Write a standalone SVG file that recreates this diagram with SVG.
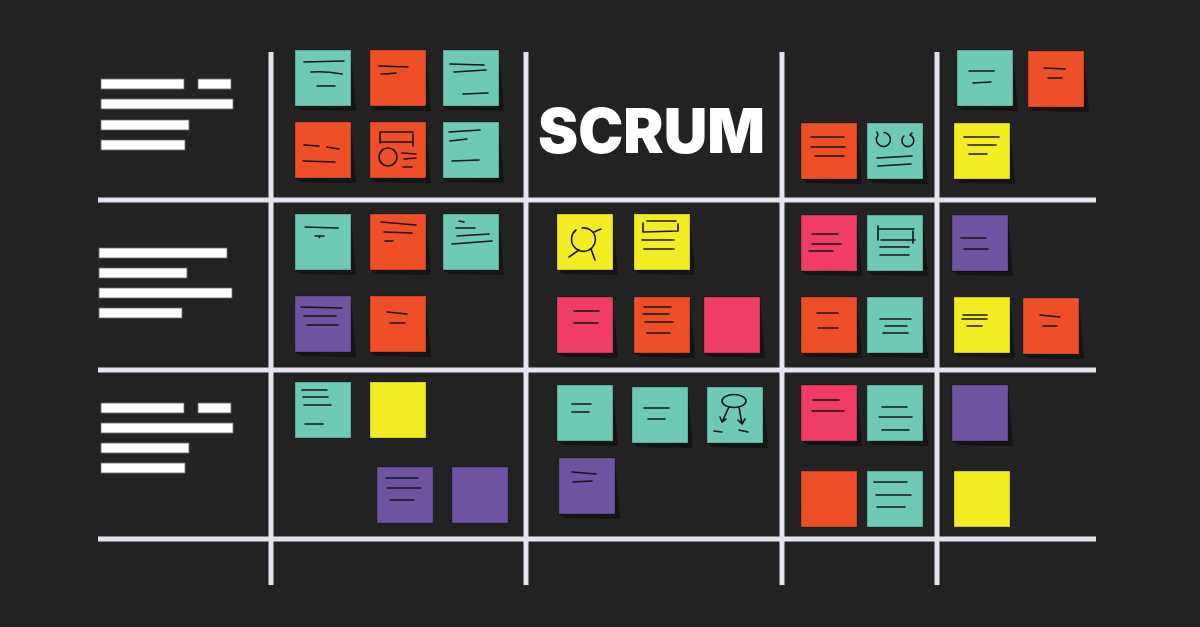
<svg xmlns="http://www.w3.org/2000/svg" xmlns:xlink="http://www.w3.org/1999/xlink" width="1200" height="627" viewBox="0 0 1200 627">
  <defs>
    <style>
      .grid { stroke: #e6e4ef; stroke-width: 5; }
      .bar { fill: #ffffff; stroke: #6b6b6b; stroke-width: 0.8; }
      .note { stroke: rgba(0,0,0,0.28); stroke-width: 1; }
      .teal { fill: #6fcab5; }
      .orange { fill: #ef4f27; }
      .yellow { fill: #f5ed23; }
      .pink { fill: #ef3d67; }
      .purple { fill: #6e53a1; }
      .shadow { fill: #141414; }
      .ink { fill: none; stroke: #141414; stroke-width: 1.6; stroke-linecap: round; stroke-linejoin: round; }
      .title { font-family: Inter, "Liberation Sans", sans-serif; font-weight: 900; font-size: 62px; fill: #ffffff; }
    </style>
    <!-- drop shadow cast by a sticky note, bottom-right -->
    <path id="shadow" class="shadow" d="M56,4 L61,61 L6,60 L0,56 Z"/>
  </defs>

  <rect width="1200" height="627" fill="#222222"/>

  <!-- board grid -->
  <g id="connectors">
    <line class="grid" x1="271" y1="52" x2="271" y2="585"/>
    <line class="grid" x1="526" y1="52" x2="526" y2="585"/>
    <line class="grid" x1="782" y1="52" x2="782" y2="585"/>
    <line class="grid" x1="937" y1="52" x2="937" y2="585"/>
    <line class="grid" x1="98" y1="200" x2="1096" y2="200"/>
    <line class="grid" x1="98" y1="370" x2="1096" y2="370"/>
    <line class="grid" x1="98" y1="539" x2="1096" y2="539"/>
  </g>

  <!-- row labels -->
  <g id="label-row1">
    <rect class="bar" x="101" y="79" width="83" height="10"/>
    <rect class="bar" x="198" y="79" width="33" height="10"/>
    <rect class="bar" x="101" y="99" width="132" height="10"/>
    <rect class="bar" x="101" y="120" width="88" height="10"/>
    <rect class="bar" x="101" y="140" width="84" height="10"/>
  </g>
  <g id="label-row2">
    <rect class="bar" x="99" y="248" width="128" height="10"/>
    <rect class="bar" x="99" y="268" width="88" height="10"/>
    <rect class="bar" x="99" y="288" width="133" height="10"/>
    <rect class="bar" x="99" y="308" width="83" height="10"/>
  </g>
  <g id="label-row3">
    <rect class="bar" x="101" y="403" width="83" height="10"/>
    <rect class="bar" x="198" y="403" width="33" height="10"/>
    <rect class="bar" x="101" y="423" width="132" height="10"/>
    <rect class="bar" x="101" y="443" width="88" height="10"/>
    <rect class="bar" x="101" y="463" width="84" height="10"/>
  </g>

  <g id="title">
    <text class="title" x="538" y="153" textLength="227" lengthAdjust="spacingAndGlyphs">SCRUM</text>
  </g>

  <!-- column A, row 1 -->
  <g id="a1-1" transform="translate(295,50)">
    <use href="#shadow"/><rect class="note teal" width="56" height="56"/>
    <path class="ink" d="M9,12 L49,11 M16,22 Q30,21 47,24 M22,36 L40,36"/>
  </g>
  <g id="a1-2" transform="translate(370,50)">
    <use href="#shadow"/><rect class="note orange" width="56" height="56"/>
    <path class="ink" d="M9,16 L38,17 M11,24 Q18,24 26,23"/>
  </g>
  <g id="a1-3" transform="translate(443,50)">
    <use href="#shadow"/><rect class="note teal" width="56" height="56"/>
    <path class="ink" d="M7,14 L41,15 M11,22 L43,20 M20,44 L45,43"/>
  </g>
  <g id="a1-4" transform="translate(295,122)">
    <use href="#shadow"/><rect class="note orange" width="56" height="56"/>
    <path class="ink" d="M9,23 L24,24 M32,25 L44,27 M8,39 L40,40"/>
  </g>
  <g id="a1-5" transform="translate(370,122)">
    <use href="#shadow"/><rect class="note orange" width="56" height="56"/>
    <path class="ink" d="M10,21 L10,10 L43,10 M10,20 L43,20 M43,12 L43,24"/>
    <circle class="ink" cx="18" cy="35" r="9"/>
    <path class="ink" d="M32,31 L46,32 M34,37 L46,36 M33,45 L42,45"/>
  </g>
  <g id="a1-6" transform="translate(443,122)">
    <use href="#shadow"/><rect class="note teal" width="56" height="56"/>
    <path class="ink" d="M6,10 L37,8 M7,19 L24,17 M9,39 L36,38"/>
  </g>

  <!-- column A, row 2 -->
  <g id="a2-1" transform="translate(295,214)">
    <use href="#shadow"/><rect class="note teal" width="56" height="56"/>
    <path class="ink" d="M10,13 L43,14 M20,22 L29,22 M24,22 L24.5,23.5"/>
  </g>
  <g id="a2-2" transform="translate(370,214)">
    <use href="#shadow"/><rect class="note orange" width="56" height="56"/>
    <path class="ink" d="M11,8 L46,11 M14,18 L42,19 M15,27 L23,27"/>
  </g>
  <g id="a2-3" transform="translate(443,214)">
    <use href="#shadow"/><rect class="note teal" width="56" height="56"/>
    <path class="ink" d="M16,7 L21,8 M13,14 L32,14 M14,22 L46,20 M9,30 L49,27"/>
  </g>
  <g id="a2-4" transform="translate(295,296)">
    <use href="#shadow"/><rect class="note purple" width="56" height="56"/>
    <path class="ink" d="M6,11 L47,12 M9,20 L41,20 M12,29 L43,29"/>
  </g>
  <g id="a2-5" transform="translate(370,296)">
    <use href="#shadow"/><rect class="note orange" width="56" height="56"/>
    <path class="ink" d="M17,16 L37,18 M20,27 L35,27"/>
  </g>

  <!-- column A, row 3 -->
  <g id="a3-1" transform="translate(295,382)">
    <rect class="note teal" width="56" height="56"/>
    <path class="ink" d="M7,8 L32,8 M8,15 L33,15 M9,23 L36,23 M10,42 L28,42"/>
  </g>
  <g id="a3-2" transform="translate(370,382)">
    <rect class="note yellow" width="56" height="56"/>
  </g>
  <g id="a3-3" transform="translate(377,467)">
    <rect class="note purple" width="56" height="56"/>
    <path class="ink" d="M9,11 L41,11 M10,21 L44,21 M13,33 L37,33"/>
  </g>
  <g id="a3-4" transform="translate(452,467)">
    <rect class="note purple" width="56" height="56"/>
  </g>

  <!-- column B, row 2 -->
  <g id="b2-1" transform="translate(557,214)">
    <use href="#shadow"/><rect class="note yellow" width="56" height="56"/>
    <path class="ink" d="M19,16 A12,12 0 1 0 38,22 M38,22 A12,12 0 0 0 25,14"/>
    <path class="ink" d="M12,43 L22,36 M34,35 L38,46 M37,18 L44,15"/>
  </g>
  <g id="b2-2" transform="translate(634,214)">
    <use href="#shadow"/><rect class="note yellow" width="56" height="56"/>
    <path class="ink" d="M13,7 L42,7 M9,9 L9,18 L44,17 L44,10 M8,26 L40,26 M10,35 L40,35"/>
  </g>
  <g id="b2-3" transform="translate(557,297)">
    <use href="#shadow"/><rect class="note pink" width="56" height="56"/>
    <path class="ink" d="M17,14 L42,14 M17,26 L41,26"/>
  </g>
  <g id="b2-4" transform="translate(634,297)">
    <use href="#shadow"/><rect class="note orange" width="56" height="56"/>
    <path class="ink" d="M10,10 L37,10 M9,17 L35,17 M11,25 L39,25 M13,36 L36,36"/>
  </g>
  <g id="b2-5" transform="translate(704,297)">
    <use href="#shadow"/><rect class="note pink" width="56" height="56"/>
  </g>

  <!-- column B, row 3 -->
  <g id="b3-1" transform="translate(557,385)">
    <use href="#shadow"/><rect class="note teal" width="56" height="56"/>
    <path class="ink" d="M15,19 L34,19 M15,27 L32,27"/>
  </g>
  <g id="b3-2" transform="translate(632,387)">
    <use href="#shadow"/><rect class="note teal" width="56" height="56"/>
    <path class="ink" d="M12,21 L37,21 M16,32 L33,32"/>
  </g>
  <g id="b3-3" transform="translate(707,387)">
    <use href="#shadow"/><rect class="note teal" width="56" height="56"/>
    <ellipse class="ink" cx="27" cy="14" rx="12" ry="6.5"/>
    <path class="ink" d="M22,20 L15,35 M13,30 L15,35 L19,32 M32,20 L35,37 M31,33 L35,37 L38,32 M7,44 L15,45 M32,43 L41,45"/>
  </g>
  <g id="b3-4" transform="translate(559,458)">
    <use href="#shadow"/><rect class="note purple" width="56" height="56"/>
    <path class="ink" d="M13,14 L37,16 M14,24 L33,23"/>
  </g>

  <!-- column C -->
  <g id="c1-1" transform="translate(801,123)">
    <use href="#shadow"/><rect class="note orange" width="56" height="56"/>
    <path class="ink" d="M10,14 L43,14 M10,24 L44,24 M14,33 L43,33"/>
  </g>
  <g id="c1-2" transform="translate(867,123)">
    <use href="#shadow"/><rect class="note teal" width="56" height="56"/>
    <path class="ink" d="M11,12 A7,7 0 1 0 17,9.5 M11,12 L10,9"/>
    <path class="ink" d="M37,13 A6,6 0 1 0 43,12 L45,10"/>
    <path class="ink" d="M10,35 L45,33 M11,43 L44,41"/>
  </g>
  <g id="c2-1" transform="translate(801,215)">
    <use href="#shadow"/><rect class="note pink" width="56" height="56"/>
    <path class="ink" d="M11,19 L37,19 M11,29 L40,29 M8,36 L32,36"/>
  </g>
  <g id="c2-2" transform="translate(867,215)">
    <use href="#shadow"/><rect class="note teal" width="56" height="56"/>
    <path class="ink" d="M11,11 L11,25 M11,14 L47,14 M46,16 L46,28 M14,25 L48,25 M13,32 L42,32 M13,40 L42,40"/>
  </g>
  <g id="c2-3" transform="translate(801,297)">
    <use href="#shadow"/><rect class="note orange" width="56" height="56"/>
    <path class="ink" d="M16,16 L37,16 M17,31 L37,31"/>
  </g>
  <g id="c2-4" transform="translate(867,297)">
    <use href="#shadow"/><rect class="note teal" width="56" height="56"/>
    <path class="ink" d="M13,22 L44,22 M18,29 L40,29 M16,36 L41,36"/>
  </g>
  <g id="c3-1" transform="translate(801,385)">
    <use href="#shadow"/><rect class="note pink" width="56" height="56"/>
    <path class="ink" d="M12,15 L38,15 M11,26 L43,26"/>
  </g>
  <g id="c3-2" transform="translate(867,385)">
    <use href="#shadow"/><rect class="note teal" width="56" height="56"/>
    <path class="ink" d="M15,22 L40,22 M12,32 L45,32 M15,45 L42,45"/>
  </g>
  <g id="c3-3" transform="translate(801,471)">
    <rect class="note orange" width="56" height="56"/>
  </g>
  <g id="c3-4" transform="translate(867,471)">
    <rect class="note teal" width="56" height="56"/>
    <path class="ink" d="M7,11 L40,11 M9,24 L44,24 M10,36 L38,36"/>
  </g>

  <!-- column D -->
  <g id="d1-1" transform="translate(957,50)">
    <use href="#shadow"/><rect class="note teal" width="56" height="56"/>
    <path class="ink" d="M12,21 L37,21 M16,33 L34,32"/>
  </g>
  <g id="d1-2" transform="translate(1028,51)">
    <use href="#shadow"/><rect class="note orange" width="56" height="56"/>
    <path class="ink" d="M16,17 L37,18 M20,27 L34,27"/>
  </g>
  <g id="d1-3" transform="translate(954,123)">
    <use href="#shadow"/><rect class="note yellow" width="56" height="56"/>
    <path class="ink" d="M10,14 L45,14 M14,22 L42,22 M15,31 L33,31"/>
  </g>
  <g id="d2-1" transform="translate(952,215)">
    <use href="#shadow"/><rect class="note purple" width="56" height="56"/>
    <path class="ink" d="M9,23 L34,23 M12,34 L36,34"/>
  </g>
  <g id="d2-2" transform="translate(954,297)">
    <use href="#shadow"/><rect class="note yellow" width="56" height="56"/>
    <path class="ink" d="M9,18 L33,18 M8,22 L33,22 M13,29 L28,29"/>
  </g>
  <g id="d2-3" transform="translate(1023,298)">
    <use href="#shadow"/><rect class="note orange" width="56" height="56"/>
    <path class="ink" d="M17,17 L37,19 M20,28 L34,28"/>
  </g>
  <g id="d3-1" transform="translate(952,385)">
    <use href="#shadow"/><rect class="note purple" width="56" height="56"/>
  </g>
  <g id="d3-2" transform="translate(954,471)">
    <rect class="note yellow" width="56" height="56"/>
  </g>
</svg>
